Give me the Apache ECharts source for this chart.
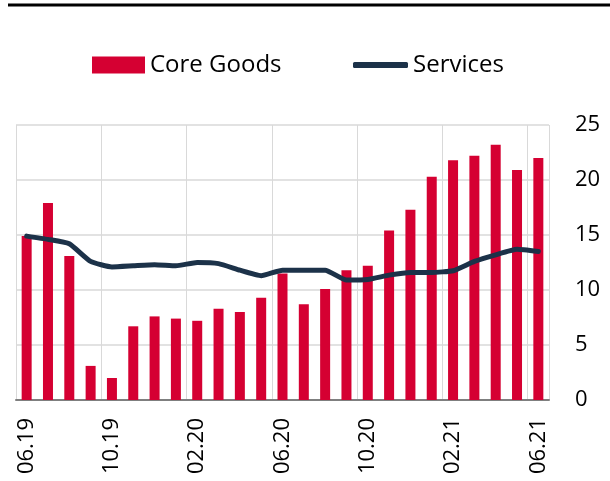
<!DOCTYPE html>
<html>
<head>
<meta charset="utf-8">
<script src="https://cdn.jsdelivr.net/npm/echarts@6/dist/echarts.min.js"></script>
<style>
  html, body { margin: 0; padding: 0; background: #fff; }
  #chart { width: 610px; height: 481px; }
</style>
</head>
<body>
<div id="chart"></div>
<script>
// months 06.19 .. 06.21
var months = ['06.19','07.19','08.19','09.19','10.19','11.19','12.19','01.20','02.20','03.20','04.20','05.20',
              '06.20','07.20','08.20','09.20','10.20','11.20','12.20','01.21','02.21','03.21','04.21','05.21','06.21'];
var coreGoods = [14.9, 17.9, 13.1, 3.1, 2.0, 6.7, 7.6, 7.4, 7.2, 8.3, 8.0, 9.3,
                 11.5, 8.7, 10.1, 11.8, 12.2, 15.4, 17.3, 20.3, 21.8, 22.2, 23.2, 20.9, 22.0];
var services = [14.9, 14.6, 14.2, 12.6, 12.1, 12.2, 12.3, 12.2, 12.5, 12.4, 11.8, 11.3,
                11.8, 11.8, 11.8, 10.9, 10.95, 11.35, 11.6, 11.6, 11.75, 12.6, 13.2, 13.7, 13.5];
var yTicks = [0, 5, 10, 15, 20, 25];

var red = '#d50032';
var navy = '#1c3249';
var font = '"Open Sans", "Noto Sans", sans-serif';

var myChart = echarts.init(document.getElementById('chart'));
myChart.setOption({
    animation: false,
    textStyle: { fontFamily: font },
    graphic: [{
        type: 'line',
        shape: { x1: 8, y1: 5, x2: 610, y2: 5 },
        style: { stroke: '#000', lineWidth: 3 }
    }],
    legend: [{
        left: 87, top: 48,
        icon: 'rect',
        itemWidth: 53, itemHeight: 17,
        textStyle: { fontSize: 24, color: '#000', fontFamily: font },
        data: ['Core Goods']
    }, {
        left: 348, top: 48,
        icon: 'roundRect',
        itemWidth: 55, itemHeight: 6,
        textStyle: { fontSize: 24, color: '#000', fontFamily: font },
        data: ['Services']
    }],
    grid: { left: 16, right: 61, top: 125, bottom: 81 },
    xAxis: {
        type: 'category',
        data: months,
        axisLine: { lineStyle: { color: '#7f7f7f', width: 2 } },
        axisTick: { show: false },
        axisLabel: { interval: 3, rotate: 90, fontSize: 22, color: '#000', margin: 18, fontFamily: font },
        splitLine: { show: true, interval: 3, lineStyle: { color: '#d9d9d9', width: 1 } }
    },
    yAxis: {
        type: 'value',
        position: 'right',
        min: yTicks[0], max: yTicks[yTicks.length - 1], interval: 5,
        axisLine: { show: false },
        axisTick: { show: false },
        axisLabel: { fontSize: 22, color: '#000', margin: 26, fontFamily: font },
        splitLine: { lineStyle: { color: '#d9d9d9', width: 1.5 } }
    },
    series: [{
        name: 'Core Goods',
        type: 'bar',
        barWidth: 10,
        itemStyle: { color: red },
        data: coreGoods
    }, {
        name: 'Services',
        type: 'line',
        symbol: 'none',
        smooth: 0.15,
        lineStyle: { color: navy, width: 5, cap: 'round' },
        itemStyle: { color: navy },
        data: services
    }]
});
</script>
</body>
</html>
